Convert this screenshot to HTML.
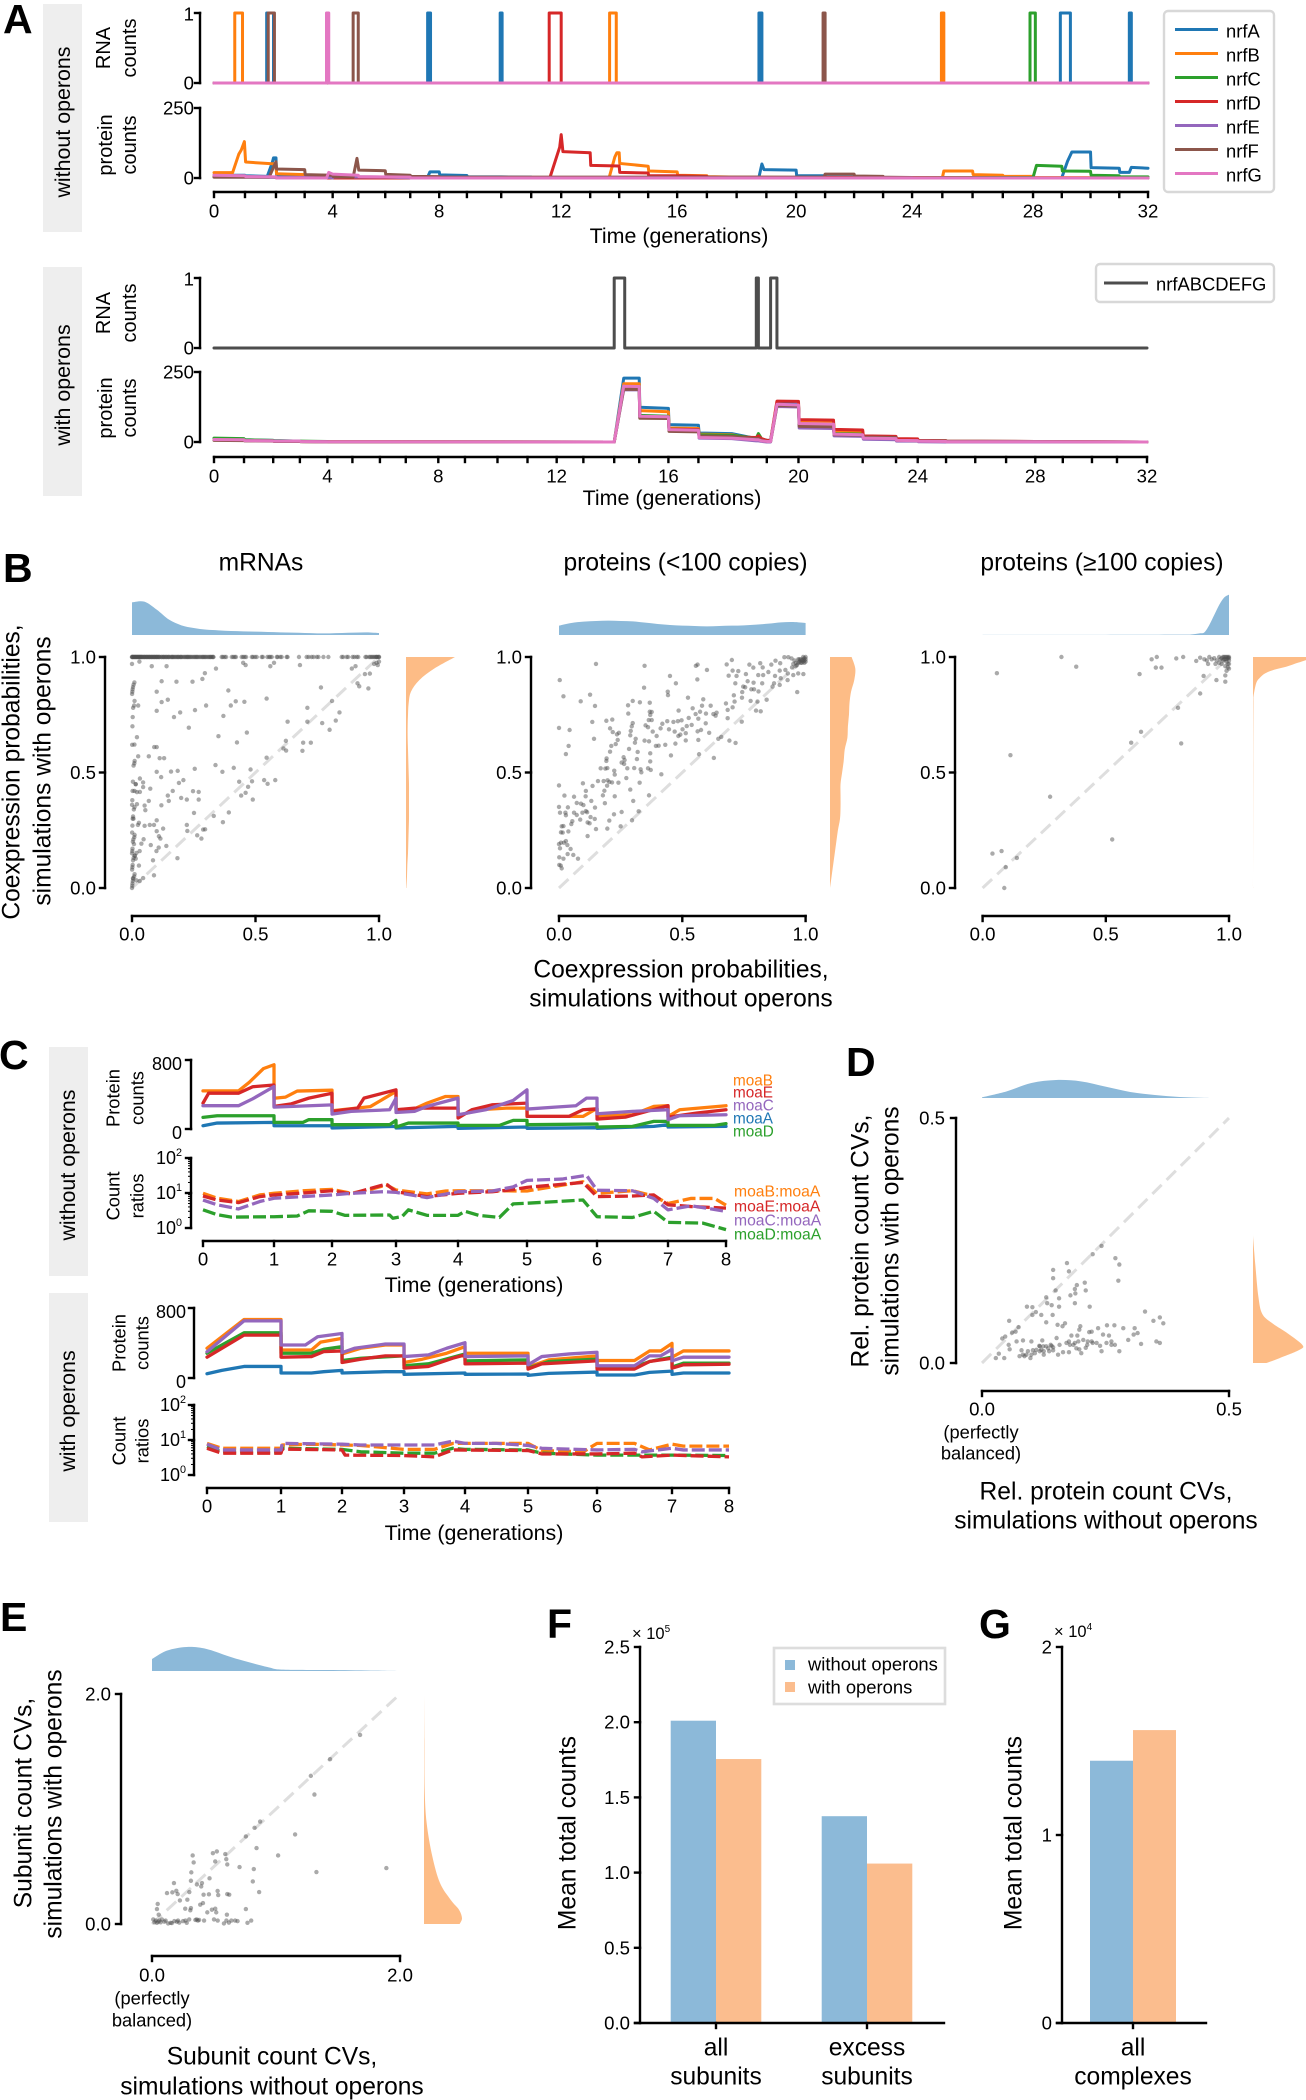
<!DOCTYPE html>
<html lang="en">
<head>
<meta charset="utf-8">
<title>Operon simulation figure</title>
<style>
html,body{margin:0;padding:0;background:#fff}
svg{display:block}
text{font-family:"Liberation Sans",Arial,sans-serif;fill:#000}
.c{dominant-baseline:central;text-anchor:middle}
.l{dominant-baseline:central;text-anchor:start}
.letter{font-weight:bold;font-size:41px}
.ax{font-size:24.6px}
.tm{font-size:21.4px}
.sm{font-size:20px}
.cs{font-size:18.3px}
.leg{font-size:18.4px}
.moa{font-size:15.3px}
.moar{font-size:15.7px}
</style>
</head>
<body>
<svg id="fig" width="1306" height="2100" viewBox="0 0 1306 2100" xmlns="http://www.w3.org/2000/svg">
<rect x="43" y="4" width="39" height="228" fill="#eeeeee"/>
<rect x="43" y="267" width="39" height="229" fill="#eeeeee"/>
<rect x="49" y="1047" width="39" height="229" fill="#eeeeee"/>
<rect x="49" y="1293" width="39" height="229" fill="#eeeeee"/>

<text class="letter" x="3" y="33">A</text>
<text class="letter" x="3" y="582">B</text>
<text class="letter" x="-1" y="1069">C</text>
<text class="letter" x="846" y="1076">D</text>
<text class="letter" x="0" y="1631">E</text>
<text class="letter" x="547" y="1638">F</text>
<text class="letter" x="979" y="1638">G</text>

<text class="c tm" transform="translate(63 122) rotate(-90)">without operons</text>
<text class="c tm" transform="translate(63 385) rotate(-90)">with operons</text>
<text class="c sm" transform="translate(104 48) rotate(-90)">RNA</text>
<text class="c sm" transform="translate(130 48) rotate(-90)">counts</text>
<text class="c sm" transform="translate(106 145) rotate(-90)">protein</text>
<text class="c sm" transform="translate(130 145) rotate(-90)">counts</text>
<text class="c sm" transform="translate(104 313) rotate(-90)">RNA</text>
<text class="c sm" transform="translate(130 313) rotate(-90)">counts</text>
<text class="c sm" transform="translate(106 408) rotate(-90)">protein</text>
<text class="c sm" transform="translate(130 408) rotate(-90)">counts</text>
<text class="c tm" x="679" y="236">Time (generations)</text>
<text class="c tm" x="672" y="498">Time (generations)</text>

<g>
<rect x="1164" y="11" width="110" height="181" rx="4" fill="#fff" stroke="#d8d8d8" stroke-width="2.4"/>
<g><line x1="1175" x2="1218" y1="29.5" y2="29.5" stroke="#1f77b4" stroke-width="3"/><text class="l leg" x="1226" y="31">nrfA</text></g>
<g><line x1="1175" x2="1218" y1="53.5" y2="53.5" stroke="#ff7f0e" stroke-width="3"/><text class="l leg" x="1226" y="55">nrfB</text></g>
<g><line x1="1175" x2="1218" y1="77.5" y2="77.5" stroke="#2ca02c" stroke-width="3"/><text class="l leg" x="1226" y="79">nrfC</text></g>
<g><line x1="1175" x2="1218" y1="101.5" y2="101.5" stroke="#d62728" stroke-width="3"/><text class="l leg" x="1226" y="103">nrfD</text></g>
<g><line x1="1175" x2="1218" y1="125.5" y2="125.5" stroke="#9467bd" stroke-width="3"/><text class="l leg" x="1226" y="127">nrfE</text></g>
<g><line x1="1175" x2="1218" y1="149.5" y2="149.5" stroke="#8c564b" stroke-width="3"/><text class="l leg" x="1226" y="151">nrfF</text></g>
<g><line x1="1175" x2="1218" y1="173.5" y2="173.5" stroke="#e377c2" stroke-width="3"/><text class="l leg" x="1226" y="175">nrfG</text></g>
</g>
<g>
<rect x="1096" y="264" width="178" height="38" rx="4" fill="#fff" stroke="#d8d8d8" stroke-width="2.4"/>
<line x1="1104" x2="1148" y1="283" y2="283" stroke="#4d4d4d" stroke-width="3"/>
<text class="l leg" x="1156" y="284">nrfABCDEFG</text>
</g>

<text class="c ax" x="261" y="563">mRNAs</text>
<text class="c ax" x="685.5" y="563">proteins (&lt;100 copies)</text>
<text class="c ax" x="1102" y="563">proteins (≥100 copies)</text>
<text class="c ax" transform="translate(12 772) rotate(-90)">Coexpression probabilities,</text>
<text class="c ax" transform="translate(43 771) rotate(-90)">simulations with operons</text>
<text class="c ax" x="681" y="970">Coexpression probabilities,</text>
<text class="c ax" x="681" y="999">simulations without operons</text>

<text class="c tm" transform="translate(68 1165) rotate(-90)">without operons</text>
<text class="c tm" transform="translate(68 1411) rotate(-90)">with operons</text>
<text class="c cs" transform="translate(113 1098) rotate(-90)">Protein</text>
<text class="c cs" transform="translate(137 1098) rotate(-90)">counts</text>
<text class="c cs" transform="translate(113 1196) rotate(-90)">Count</text>
<text class="c cs" transform="translate(137 1196) rotate(-90)">ratios</text>
<text class="c cs" transform="translate(119 1343) rotate(-90)">Protein</text>
<text class="c cs" transform="translate(142 1343) rotate(-90)">counts</text>
<text class="c cs" transform="translate(119 1441) rotate(-90)">Count</text>
<text class="c cs" transform="translate(142 1441) rotate(-90)">ratios</text>
<text class="c tm" x="474" y="1285">Time (generations)</text>
<text class="c tm" x="474" y="1533">Time (generations)</text>
<text class="l moa" x="733" y="1081" style="fill:#ff7f0e">moaB</text>
<text class="l moa" x="733" y="1093" style="fill:#d62728">moaE</text>
<text class="l moa" x="733" y="1106" style="fill:#9467bd">moaC</text>
<text class="l moa" x="733" y="1119" style="fill:#1f77b4">moaA</text>
<text class="l moa" x="733" y="1132" style="fill:#2ca02c">moaD</text>
<text class="l moar" x="734" y="1192" style="fill:#ff7f0e">moaB:moaA</text>
<text class="l moar" x="734" y="1207" style="fill:#d62728">moaE:moaA</text>
<text class="l moar" x="734" y="1221" style="fill:#9467bd">moaC:moaA</text>
<text class="l moar" x="734" y="1235" style="fill:#2ca02c">moaD:moaA</text>

<text class="c ax" transform="translate(861 1241) rotate(-90)">Rel. protein count CVs,</text>
<text class="c ax" transform="translate(891 1241) rotate(-90)">simulations with operons</text>
<text class="c cs" x="981" y="1432">(perfectly</text>
<text class="c cs" x="981" y="1453">balanced)</text>
<text class="c ax" x="1106" y="1492">Rel. protein count CVs,</text>
<text class="c ax" x="1106" y="1521">simulations without operons</text>

<text class="c ax" transform="translate(24 1803) rotate(-90)">Subunit count CVs,</text>
<text class="c ax" transform="translate(54 1804) rotate(-90)">simulations with operons</text>
<text class="c cs" x="152" y="1998">(perfectly</text>
<text class="c cs" x="152" y="2020">balanced)</text>
<text class="c ax" x="272" y="2057">Subunit count CVs,</text>
<text class="c ax" x="272" y="2087">simulations without operons</text>

<text class="c ax" transform="translate(568 1833) rotate(-90)">Mean total counts</text>
<text class="c ax" transform="translate(1014 1833) rotate(-90)">Mean total counts</text>
<text x="632" y="1639" font-size="16.5">× 10<tspan dy="-7" font-size="10">5</tspan></text>
<text x="1054" y="1637" font-size="16.5">× 10<tspan dy="-7" font-size="10">4</tspan></text>

<g id="marks"></g>

<g>
<rect x="774" y="1648" width="171" height="56" fill="#fff" stroke="#dddddd" stroke-width="2.6"/>
<g><rect x="785" y="1660" width="10" height="10" fill="#8cb9d9"/><text class="l leg" x="808" y="1664">without operons</text></g>
<g><rect x="785" y="1682" width="10" height="10" fill="#fbbd8e"/><text class="l leg" x="808" y="1687">with operons</text></g>
</g>
</svg>

<script>
/* ---------- Panel A: data ---------- */
const genLengthsA1 = [31,31,28.7,28,25.6,27,25,29,27.7,34.3,30,30,29,29,29,29,29.75,29.75,29.75,29.75,29,29,29,29,30.25,30.25,30.25,30.25,28.75,28.75,28.75,28.75];
const genLengthsA2 = [36,35,32,33,30,33,31,39,32,39,36,35,32,37,30,35,36,40,42,38,42,35,40,26,34,35,37,35,33,35,30,36];
const timeTickLabelsA = [0,4,8,12,16,20,24,28,32];
const rnaTicks = [0,1];
const proteinTicksA = [0,250];

const rnaSpikesA = [[1.7,1.92],[7.6,7.7],[9.97,10.03],[18.75,18.85],[28.95,29.3],[31.35,31.42]];
const rnaSpikesB = [[0.67,0.92],[13.67,13.9],[24.97,25.05]];
const rnaSpikesC = [[27.9,28.08]];
const rnaSpikesD = [[11.6,12.0]];
const rnaSpikesE = [];
const rnaSpikesF = [[1.75,1.95],[4.8,5.0],[20.93,21.0]];
const rnaSpikesG = [[3.78,3.86]];
const rnaSpikesOperon = [[14,14.42],[18.7,18.76],[19.12,19.32]];

const proteinA1A = [[0,10],[1,10],[1.02,8],[1.72,6],[1.88,55],[1.92,72],[2,72],[2.02,12],[3,8],[3.02,5],[7.6,3],[7.68,22],[8,22],[8.02,11],[9,9],[9.02,4],[10,4],[11,3],[11.02,1],[18.75,3],[18.85,50],[18.92,30],[20,28],[20.02,8],[21,8],[21.02,3],[22,3],[22.02,1],[29,1],[29.2,60],[29.35,93],[30,93],[30.02,37],[31,35],[31.02,20],[31.35,20],[31.42,38],[32,35]];
const proteinA1B = [[0,19],[0.6,19],[0.8,85],[0.88,100],[0.98,130],[1.02,57],[2,50],[2.02,15],[3,12],[3.02,7],[5,3],[5.02,0],[13.65,0],[13.85,75],[13.92,90],[14,90],[14.02,52],[15,42],[15.02,25],[16,22],[16.02,10],[17,8],[17.02,5],[18,3],[20,2],[20.02,0],[25,0],[25.05,25],[26,25],[26.02,12],[27,10],[27.02,6],[28,6],[28.02,2],[32,1]];
const proteinA1C = [[0,5],[2,3],[2.02,0],[28,2],[28.12,45],[29,42],[29.02,25],[30,24],[30.02,10],[31,8],[31.02,4],[32,4]];
const proteinA1D = [[0,5],[2,3],[2.02,0],[11.62,0],[11.95,110],[12,155],[12.06,94],[13,90],[13.02,45],[14,43],[14.02,20],[15,18],[15.02,8],[16,8],[17,6],[17.02,2],[32,0]];
const proteinA1E = [[0,3],[3.9,2],[4,0],[4.02,4],[6,3],[7,1],[7.02,0],[32,0]];
const proteinA1F = [[0,3],[1.78,3],[2,58],[2.02,32],[3,30],[3.02,12],[4,10],[4.02,5],[4.8,3],[4.95,70],[5.02,28],[6,26],[6.02,13],[7,10],[7.02,6],[8,5],[8.02,3],[20.97,3],[21,14],[22,14],[22.02,7],[23,6],[23.02,3],[24,2],[24.02,0],[32,0]];
const proteinA1G = [[0,10],[1,8],[1.02,5],[2,4],[2.02,0],[3.78,0],[3.86,20],[4,14],[5,10],[5.02,5],[6,4],[7,3],[7.02,0],[32,0]];

const proteinTimesA2 = [0,1,1.02,2,2.02,3,3.02,4,4.02,14,14.38,14.42,15,15.02,16,16.02,17,17.02,18,18.7,18.76,18.85,19,19.12,19.32,20,20.02,21,21.02,22,22.02,23,23.02,24,24.02,25,25.02,28,32];
const proteinA2A = [12,10,8,6,5,3,2,1,1,0,228,228,228,124,120,62,60,32,30,12,14,10,6,6,138,135,62,60,30,28,16,15,8,7,4,3,2,1,0];
const proteinA2B = [8,7,6,5,4,3,2,1,1,0,208,208,208,112,108,50,48,28,26,10,10,8,4,4,132,130,70,68,38,36,18,16,8,7,4,3,2,1,0];
const proteinA2C = [14,12,8,6,5,3,3,2,1,0,200,198,196,95,92,46,44,26,24,14,30,12,4,4,132,130,62,58,30,28,16,14,8,7,4,3,2,1,0];
const proteinA2D = [8,7,5,4,3,2,2,1,1,0,195,192,190,90,88,46,44,20,18,16,22,12,6,6,146,145,80,78,45,43,22,20,12,11,6,5,3,2,0];
const proteinA2E = [7,6,5,4,3,3,2,1,0,0,187,186,186,88,86,42,40,14,12,4,4,2,0,0,127,125,50,48,22,20,10,8,3,3,1,0,0,0,0];
const proteinA2F = [6,5,4,3,2,2,1,1,0,0,190,188,188,85,84,38,36,22,20,12,12,6,2,2,130,128,56,54,26,24,18,16,6,5,4,4,3,2,0];
const proteinA2G = [9,8,5,4,3,3,2,1,1,0,200,199,198,92,90,44,42,16,14,8,8,4,2,2,135,132,66,64,28,26,14,12,6,5,3,2,1,1,0];

/* ---------- Panel B: data ---------- */
const kdeGrid = [0,.05,.1,.15,.2,.25,.3,.35,.4,.45,.5,.55,.6,.65,.7,.75,.8,.85,.9,.95,1];
const b1TopDensity = [98,100,76,46,29,21,16,14,12,11,10,9,8,7,6,5,5,6,7,8,6];
const b1RightDensity = [1,3,4,6,7,8,9,9,9,9,8,7,6,5,5,6,8,15,40,85,147];
const b2TopDensity = [28,36,40,42,43,42,41,37,33,30,28,27,26,27,28,29,31,34,38,39,36];
const b2RightDensity = [0,3,6,9,12,15,19,20,20,20,23,26,28,33,34,36,37,40,46,48,41];
const b3TopGrid = [0,.5,.8,.85,.88,.9,.92,.94,.96,.98,1];
const b3TopDensity = [.3,.5,1,2,5,8,30,60,90,112,121];
const b3RightGrid = [0,.5,.8,.83,.886,.91,.929,.945,.958,.975,.987,1];
const b3RightDensity = [.2,.4,.8,1,6,13,23,40,63,85,101,115];
const unitTicks = [0,.5,1];

const b1TopRowX = [0,.004,.008,.012,.016,.02,.024,.028,.032,.036,.04,.045,.05,.055,.06,.065,.07,.075,.08,.085,.09,.095,.1,.105,.11,.118,.125,.13,.138,.145,.15,.16,.165,.172,.18,.187,.195,.2,.21,.218,.225,.232,.24,.25,.258,.265,.275,.285,.292,.3,.31,.318,.325,.33,.363,.381,.404,.421,.444,.462,.485,.505,.525,.548,.566,.586,.606,.626,.676,.707,.727,.748,.775,.795,.849,.869,.893,.916,.95,.97,.99,1,.96,.98,.995];
const b1TopRowExtraX = [0,.002,.006,.01,.014,.018,.022,.026,.03,.034,.038,.042,.048,.052,.058,.062,.068,.072,.078,.082,.088,.092,.098,.102,.108,.112,.12,.127,.134,.14,.148,.155,.162,.168,.176,.184,.19,.198,.205,.214,.222,.228,.236,.245,.254,.262,.27,.28,.288,.296,.305,.314,.32,.328,.368,.375,.41,.416,.45,.456,.49,.498,.53,.555,.56,.59,.6,.63,.715,.735,.755,.855,.875,.9,.91,.945,.975,.985,1,.99,.965];
const b1LeftColumnY = [0,.01,.02,.03,.04,.05,.06,.08,.09,.1,.12,.13,.14,.15,.16,.17,.2,.21,.22,.23,.24,.27,.3,.31,.34,.35,.36,.38,.42,.46,.53,.54,.55,.62,.7,.74,.78,.79,.81,.84,.85,.86,.87,.88,.89];
const b1Points = [[0,.97],[.03,.98],[.08,.96],[.14,.96],[.45,.975],[.46,.965],[.575,.975],[.56,.96],[.68,.965],[.89,.95],[.905,.96],[.34,.95],[.295,.93],[.285,.905],[.245,.893],[.18,.893],[.12,.895],[.1,.85],[.12,.805],[.145,.815],[.1,.767],[.025,.79],[.195,.76],[.17,.74],[.255,.77],[.3,.79],[.39,.855],[.4,.79],[.42,.808],[.455,.806],[.545,.82],[.37,.745],[.23,.694],[.35,.657],[.465,.673],[.425,.63],[.63,.72],[.765,.868],[.81,.81],[.84,.76],[.825,.725],[.71,.78],[.71,.72],[.77,.714],[.8,.685],[.943,.926],[.963,.928],[.913,.886],[.92,.873],[.957,.864],[.02,.653],[.01,.621],[.025,.57],[.068,.57],[.09,.61],[.1,.61],[.112,.562],[.13,.562],[.1,.503],[.158,.504],[.185,.507],[.254,.516],[.338,.532],[.366,.503],[.412,.52],[.48,.513],[.545,.564],[.623,.637],[.613,.604],[.624,.595],[.69,.594],[.693,.629],[.724,.629],[.118,.48],[.208,.467],[.19,.455],[.165,.42],[.145,.4],[.149,.377],[.119,.358],[.199,.39],[.222,.383],[.27,.383],[.247,.419],[.27,.416],[.251,.325],[.331,.312],[.368,.285],[.392,.327],[.434,.46],[.486,.462],[.47,.438],[.46,.412],[.442,.4],[.489,.383],[.535,.467],[.549,.451],[.58,.467],[.032,.474],[.045,.457],[.045,.437],[.032,.416],[.015,.449],[.074,.43],[.068,.377],[.051,.357],[.054,.337],[.02,.363],[.089,.273],[.072,.273],[.051,.269],[.1,.293],[.028,.282],[.024,.273],[.126,.257],[.1,.246],[.109,.224],[.115,.214],[.047,.211],[.038,.192],[.076,.186],[.108,.175],[.099,.16],[.139,.182],[.031,.16],[.018,.152],[.085,.12],[.015,.127],[.028,.097],[.184,.129],[.222,.273],[.224,.247],[.264,.228],[.281,.214],[.288,.253],[.296,.254],[.089,.055],[.045,.043],[.031,.03],[.018,.033],[.004,.043],[.98,.97],[.99,.975],[1,.98],[.995,.965],[.015,.45],[.01,.42],[.02,.415],[.006,.3],[.012,.14],[.008,.19]];
const b2Points = [[.15,.97],[.347,.962],[.555,.962],[.562,.967],[.6,.944],[.68,.968],[.701,.987],[.704,.941],[.727,.939],[.772,.967],[.788,.954],[.816,.973],[.826,.955],[.861,.967],[.878,.984],[.897,.973],[.914,.999],[.93,.999],[.943,.994],[.003,.9],[.45,.918],[.474,.886],[.561,.903],[.688,.919],[.72,.918],[.758,.926],[.808,.922],[.828,.922],[.849,.935],[.895,.941],[.918,.944],[.928,.929],[.95,.922],[.97,.929],[.991,.926],[.876,.918],[.899,.908],[.927,.9],[.018,.83],[.126,.837],[.088,.808],[.146,.788],[.345,.867],[.441,.85],[.442,.835],[.523,.824],[.715,.886],[.765,.895],[.789,.889],[.824,.886],[.872,.886],[.895,.879],[.866,.872],[.966,.848],[.747,.872],[.755,.869],[.78,.86],[.791,.86],[.809,.851],[.743,.848],[.709,.834],[.742,.824],[.677,.799],[.712,.807],[.777,.81],[.805,.807],[.842,.815],[.299,.81],[.28,.791],[.328,.804],[.368,.802],[.585,.817],[.58,.789],[.615,.789],[.542,.778],[.485,.768],[.572,.763],[.281,.755],[.368,.763],[.376,.762],[.37,.749],[.554,.753],[.596,.755],[.626,.753],[.639,.759],[.635,.746],[.684,.771],[.704,.782],[.799,.768],[.818,.765],[.364,.727],[.376,.727],[.192,.724],[.216,.729],[.135,.719],[.299,.714],[.439,.722],[.464,.719],[.482,.722],[.497,.726],[.526,.736],[.565,.733],[.684,.735],[.741,.72],[.295,.7],[.419,.711],[.351,.704],[.361,.696],[.538,.706],[.595,.713],[.207,.691],[.218,.675],[.243,.672],[.235,.665],[.291,.68],[.289,.661],[.38,.677],[.396,.658],[.412,.691],[.446,.687],[.469,.677],[.501,.687],[.518,.701],[.562,.678],[.576,.684],[.609,.672],[0,.693],[.043,.684],[.142,.646],[.238,.641],[.23,.623],[.311,.646],[.308,.629],[.347,.638],[.365,.635],[.393,.615],[.404,.616],[.431,.62],[.472,.625],[.484,.658],[.492,.664],[.514,.67],[.514,.639],[.565,.641],[.646,.646],[.658,.654],[.691,.638],[.716,.628],[.039,.615],[.212,.615],[.284,.602],[.207,.59],[.319,.589],[.37,.583],[.028,.58],[.454,.574],[.568,.579],[.628,.563],[.193,.561],[.192,.55],[.262,.566],[.266,.554],[.254,.543],[.264,.537],[.316,.558],[.37,.548],[.169,.518],[.188,.517],[.196,.519],[.224,.508],[.226,.491],[.277,.518],[.305,.519],[.331,.514],[.361,.518],[.372,.511],[.334,.501],[.415,.492],[.273,.476],[.158,.463],[.181,.463],[.197,.466],[.204,.459],[.215,.457],[.241,.456],[.327,.456],[.097,.453],[0,.444],[.136,.442],[.195,.443],[.184,.421],[.109,.42],[.289,.426],[.022,.4],[.061,.395],[.108,.397],[.178,.401],[.226,.397],[.365,.401],[.131,.377],[.301,.377],[.072,.368],[.089,.365],[.099,.359],[.186,.367],[0,.351],[.036,.349],[.146,.348],[.004,.326],[.026,.326],[.028,.315],[.061,.326],[.072,.316],[.095,.326],[.109,.333],[.114,.328],[.223,.319],[.254,.329],[.323,.332],[.128,.307],[.145,.299],[.086,.296],[.054,.289],[.204,.292],[.296,.293],[.018,.268],[.011,.267],[.05,.277],[.116,.284],[.124,.28],[.15,.255],[.196,.257],[.25,.267],[.008,.241],[.015,.24],[.038,.245],[.116,.225],[.028,.203],[.02,.196],[.008,.196],[0,.19],[.034,.186],[.004,.172],[.047,.169],[.035,.147],[.058,.143],[.001,.133],[.018,.127],[.077,.127],[.001,.1],[.007,.097],[.011,.085],[1,1],[.995,.995],[.99,.99],[.985,.985],[.98,.99],[.975,.98],[.97,.975],[.965,.965],[.96,.96],[.99,1],[.995,.985],[1,.99],[.985,.975],[.98,.975],[.99,.98],[.975,.99],[.96,.975],[.95,.97],[.97,.99],[1,.98],[.995,.975],[.945,.955],[.955,.985]];
const b3Points = [[.32,1],[.38,.958],[.058,.93],[.113,.575],[.274,.395],[.526,.21],[.077,.16],[.04,.149],[.139,.13],[.094,.09],[.088,0],[.603,.629],[.643,.676],[.806,.626],[.793,.78],[.883,.842],[.637,.926],[.686,.99],[.707,1],[.703,.954],[.726,.954],[.786,.994],[.814,1],[.867,.983],[.883,.997],[.897,.918],[.949,.9],[.985,.893],[.985,.92],[.99,.94],[.9,.99],[.91,.985],[.92,1],[.93,.99],[.94,.995],[.95,.985],[.96,1],[.965,.99],[.97,.995],[.975,.985],[.98,1],[.985,.99],[.99,1],[.995,.995],[1,1],[.99,.98],[.995,.97],[1,.985],[1,.97],[.985,.96],[.995,.955],[1,.95],[.97,.97],[.96,.975],[.945,.97],[.915,.97],[1,.995],[.995,1],[.99,.99],[.985,1],[.98,.99],[.975,1]];

/* ---------- Panel C: data ---------- */
const genLengthsC1 = [71,58,64,62,69,70,71,58];
const genLengthsC2 = [74,61,62,61,63,69,75,57];
const timeTickLabelsC = [0,1,2,3,4,5,6,7,8];
const proteinTicksC = [0,800];
const ratioTicksC = [1,10,100];
const ratioMinorTicks = [2,3,4,5,6,7,8,9,20,30,40,50,60,70,80,90];

const c1MoaA = [[0,38],[.2,69],[1,77],[1.001,38],[2,38],[2.001,12],[3,30],[3.001,12],[4,30],[4.001,8],[5,23],[5.001,8],[6,15],[6.001,8],[6.8,30],[7,50],[7.001,23],[8,30]];
const c1MoaB = [[0,442],[.5,442],[.65,540],[.85,700],[1,745],[1.001,357],[1.2,370],[1.4,440],[2,450],[2.001,212],[2.6,260],[3,435],[3.001,223],[3.3,235],[3.5,300],[3.8,377],[4,377],[4.001,154],[4.3,223],[4.7,242],[5,242],[5.001,146],[5.8,146],[6,240],[6.001,146],[6.5,165],[6.8,262],[7,270],[7.001,146],[7.2,223],[8,270]];
const c1MoaD = [[0,135],[.2,154],[1,154],[1.001,77],[1.5,77],[1.6,108],[2,108],[2.001,50],[2.9,50],[3,100],[3.001,23],[3.2,69],[4,69],[4.001,42],[4.6,42],[4.8,100],[5,100],[5.001,50],[6,58],[6.001,23],[6.5,30],[6.8,88],[7,88],[7.001,42],[7.8,42],[8,62]];
const c1MoaE = [[0,300],[.08,415],[.5,415],[.7,490],[1,510],[1.001,262],[1.3,292],[1.6,358],[2,415],[2.001,204],[2.4,242],[2.5,358],[3,454],[3.001,223],[3.3,242],[4,242],[4.001,127],[4.2,223],[4.5,281],[5,300],[5.001,146],[5.6,146],[5.8,223],[6,235],[6.001,115],[6.4,138],[7,270],[7.001,138],[7.5,185],[8,223]];
const c1MoaC = [[0,270],[.5,270],[.7,350],[1,492],[1.001,254],[2,280],[2.001,173],[2.3,204],[2.9,223],[3,358],[3.001,192],[3.3,204],[3.5,262],[4,358],[4.001,165],[4.4,223],[4.8,331],[5,454],[5.001,231],[5.4,254],[5.7,270],[5.85,358],[6,358],[6.001,177],[6.5,204],[7,223],[7.001,108],[7.2,154],[8,165]];

const c1RatioB = [[0,9.8],[.2,7.1],[.5,5.7],[.8,8.8],[1,9.8],[1.5,11.6],[2,12.7],[2.3,9.8],[2.6,12.7],[2.85,16.9],[3,12.2],[3.5,9.4],[3.8,11.4],[4,11.6],[4.5,11.6],[5,11.4],[5.8,21],[6,9.8],[6.5,11.6],[6.8,8.2],[7,5],[7.4,7],[7.8,7],[8,4.5]];
const c1RatioE = [[0,8.2],[.2,6.3],[.5,5.3],[.8,7.9],[1,8.8],[1.5,10],[2,11.6],[2.3,9.4],[2.6,13.5],[2.85,18],[3,10.9],[3.5,7.9],[4,9.8],[4.5,10.9],[4.8,12.5],[5,14.5],[5.8,20],[6,7.9],[6.5,8.2],[6.8,8.8],[7,4.6],[7.4,4.1],[8,3.7]];
const c1RatioC = [[0,6.3],[.2,4.6],[.5,3.5],[.8,5.7],[1,7.1],[1.5,7.9],[2,8.8],[2.3,9.8],[2.8,10.9],[3,10.4],[3.5,7.4],[4,10.9],[4.5,11.4],[4.8,15],[5,23],[5.5,25],[5.85,32],[6,12],[6.5,11.6],[6.8,7],[7,3.3],[7.4,4.3],[8,3]];
const c1RatioD = [[0,3.3],[.2,2.4],[.4,2.05],[1,2.1],[1.4,2.2],[1.6,3.1],[2,3],[2.2,2.3],[2.9,2.35],[2.95,1.9],[3.1,2.14],[3.2,3.3],[3.5,2.3],[4,2.3],[4.1,3],[4.3,2.3],[4.6,2],[4.8,4.9],[5,5.1],[5.8,6.3],[6,2.1],[6.5,2],[6.8,3],[7,1.45],[7.6,1.38],[8,.9]];

const c2MoaA = [[0,49],[.2,87],[.5,132],[1,132],[1.001,57],[1.5,57],[1.7,72],[2,87],[2.001,57],[2.7,72],[3,72],[3.001,42],[4,57],[4.001,42],[5,45],[5.001,30],[5.3,53],[6,68],[6.001,34],[6.5,34],[6.7,64],[7,79],[7.001,42],[7.2,57],[8,57]];
const c2MoaB = [[0,340],[.5,668],[1,668],[1.001,320],[1.5,320],[1.65,410],[2,453],[2.001,275],[2.3,340],[2.7,377],[3,377],[3.001,177],[3.3,215],[3.7,283],[4,358],[4.001,283],[5,283],[5.001,125],[5.3,207],[6,253],[6.001,200],[6.5,200],[6.7,309],[6.85,309],[7,396],[7.001,238],[7.2,309],[8,309]];
const c2MoaD = [[0,283],[.5,517],[1,517],[1.001,283],[1.5,283],[1.7,328],[2,358],[2.001,200],[2.3,226],[3,253],[3.001,140],[3.4,162],[4,275],[4.001,196],[5,207],[5.001,113],[5.3,188],[6,215],[6.001,113],[6.5,125],[6.7,188],[7,238],[7.001,125],[7.2,170],[8,170]];
const c2MoaE = [[0,238],[.5,490],[1,490],[1.001,238],[1.5,245],[1.7,302],[2,309],[2.001,177],[2.3,215],[2.7,253],[3,253],[3.001,113],[3.4,132],[3.8,226],[4,264],[4.001,162],[5,170],[5.001,102],[5.2,162],[6,196],[6.001,102],[6.5,102],[6.7,188],[7,226],[7.001,113],[7.2,151],[8,158]];
const c2MoaC = [[0,300],[.5,653],[1,653],[1.001,377],[1.4,377],[1.6,472],[2,509],[2.001,290],[2.2,340],[2.7,388],[3,388],[3.001,245],[3.4,264],[3.7,340],[4,403],[4.001,245],[5,253],[5.001,151],[5.2,245],[5.6,275],[6,294],[6.001,140],[6.5,140],[6.7,253],[6.85,253],[7,328],[7.001,196],[7.2,238],[8,238]];

const c2RatioB = [[0,8],[.2,5.8],[1,5.8],[1.02,7.2],[1.5,7.6],[2,7.2],[2.3,7],[3,5.4],[3.5,5.4],[3.8,8],[4,8],[5,8],[5.2,5],[5.8,4.6],[6,8],[6.5,8],[6.7,5.2],[7,7.6],[7.2,6.7],[8,6.7]];
const c2RatioC = [[0,7.6],[.2,5.2],[1,5.2],[1.02,8],[2,7.6],[2.3,7.2],[3,7.2],[3.5,7.2],[3.8,9.3],[4,8],[4.5,8],[5,7],[5.2,5.8],[6,5.2],[6.5,5.4],[6.6,4.6],[7,5.8],[7.2,5.2],[8,5.2]];
const c2RatioD = [[0,6.5],[.2,4.6],[1,4.6],[1.02,5.8],[2,5.4],[2.3,4.6],[3,4.2],[3.5,4.2],[3.8,5.8],[4,5.4],[5,5.2],[5.2,4.2],[6,3.7],[7,3.7],[8,3.6]];
const c2RatioE = [[0,5.8],[.2,4.2],[1,4.2],[1.02,5.5],[2,5.2],[2.05,3.7],[3,3.6],[3.5,3.3],[3.8,5.2],[5,5],[5.2,4],[6,4],[6.5,4.2],[6.6,3.3],[7,3.7],[8,3.3]];

/* ---------- Panel D: data ---------- */
const dTicks = [0,.5];
const dTopGrid = [0,.05,.1,.15,.2,.25,.3,.35,.4,.45,.5];
const dTopDensity = [2,20,45,54,50,34,18,9,3,.5,0];
const dRightGrid = [0,.01,.027,.037,.06,.08,.1,.136,.2,.25,.265];
const dRightDensity = [40,80,140,148,105,60,28,16,7,1,0];
const dPoints = [[.242,.239],[.224,.222],[.172,.204],[.144,.19],[.176,.187],[.144,.173],[.27,.214],[.278,.201],[.276,.168],[.208,.164],[.192,.159],[.188,.151],[.149,.148],[.21,.148],[.189,.142],[.179,.138],[.156,.132],[.13,.134],[.132,.122],[.141,.118],[.156,.115],[.188,.122],[.218,.115],[.091,.115],[.102,.114],[.109,.104],[.102,.098],[.12,.098],[.143,.098],[.13,.083],[.055,.086],[.153,.078],[.168,.081],[.163,.075],[.074,.073],[.061,.062],[.068,.064],[.041,.05],[.047,.054],[.028,.01],[.034,.019],[.045,.01],[.056,.028],[.054,.037],[.07,.044],[.083,.046],[.08,.026],[.076,.014],[.086,.014],[.093,.024],[.1,.044],[.098,.01],[.103,.026],[.11,.027],[.116,.035],[.122,.046],[.12,.027],[.125,.017],[.13,.034],[.136,.024],[.141,.035],[.151,.051],[.144,.026],[.157,.037],[.164,.022],[.154,.017],[.176,.022],[.176,.044],[.181,.056],[.193,.056],[.188,.041],[.197,.028],[.201,.02],[.205,.047],[.21,.031],[.222,.044],[.232,.041],[.239,.035],[.242,.024],[.235,.071],[.257,.056],[.262,.044],[.269,.037],[.278,.024],[.286,.071],[.296,.047],[.309,.071],[.315,.061],[.307,.058],[.322,.039],[.353,.044],[.36,.041],[.33,.105],[.347,.086],[.36,.093],[.367,.081],[.199,.075],[.197,.068],[.222,.064],[.217,.063],[.253,.077],[.268,.077],[.245,.058],[.144,.032],[.124,.034],[.117,.024],[.107,.02],[.213,.037],[.185,.037],[.195,.044],[.224,.041],[.191,.03],[.178,.037],[.214,.044],[.262,.037],[.252,.041],[.134,.03],[.117,.034],[.1,.017],[.09,.017],[.083,.017],[.125,.024],[.139,.037],[.171,.041]];

/* ---------- Panel E: data ---------- */
const eTicks = [0,2];
const eTopGrid = [0,.12,.28,.44,.66,.93,1.06,1.46,1.8,2];
const eTopDensity = [36,61,72,66,39,12,4,3,1,0];
const eRightGrid = [0,.05,.124,.21,.356,.588,.877,1.17,1.6,2];
const eRightDensity = [107,114,105,80,48,25,8,2,1,0];
const ePoints = [[1.678,1.644],[1.436,1.433],[1.281,1.288],[1.31,1.126],[.872,.891],[.827,.836],[.757,.761],[1.154,.779],[.843,.66],[1.017,.596],[1.89,.486],[1.326,.452],[.821,.478],[.706,.495],[.591,.608],[.491,.616],[.523,.631],[.51,.544],[.328,.596],[.336,.535],[.599,.564],[.607,.518],[.317,.449],[.464,.397],[.314,.376],[.177,.356],[.362,.344],[.403,.356],[.397,.327],[.813,.37],[.864,.278],[.121,.269],[.164,.275],[.196,.289],[.207,.26],[.301,.278],[.416,.255],[.459,.258],[.529,.287],[.534,.252],[.607,.26],[.623,.255],[.225,.205],[.285,.211],[.046,.174],[.04,.13],[.054,.081],[.268,.133],[.314,.139],[.309,.119],[.389,.168],[.411,.182],[.446,.101],[.483,.124],[.51,.133],[.518,.101],[.604,.081],[.757,.13],[.01,.04],[.02,.015],[.03,.03],[.04,.01],[.05,.02],[.06,.03],[.07,.015],[.08,.04],[.1,.02],[.11,.03],[.13,.005],[.15,.01],[.16,.008],[.18,.025],[.2,.02],[.21,.03],[.22,.012],[.25,.025],[.27,.03],[.28,.01],[.3,.04],[.35,.035],[.36,.04],[.37,.03],[.38,.035],[.42,.03],[.5,.04],[.53,.03],[.58,.005],[.6,.03],[.62,.012],[.64,.03],[.67,.03],[.69,.025],[.77,.01],[.8,.03]];

/* ---------- Panels F and G: data ---------- */
const fCategoriesTop = ['all','excess'];
const fCategoriesBottom = ['subunits','subunits'];
const fWithoutOperons = [201000,137500];
const fWithOperons = [175500,106000];
const fTicks = [0,50000,100000,150000,200000,250000];
const fTickLabels = ['0.0','0.5','1.0','1.5','2.0','2.5'];
const gCategoriesTop = ['all'];
const gCategoriesBottom = ['complexes'];
const gWithoutOperons = [13950];
const gWithOperons = [15580];
const gTicks = [0,10000,20000];
const gTickLabels = ['0','1','2'];

/* ---------- Colours ---------- */
const BLUE='#1f77b4',ORANGE='#ff7f0e',GREEN='#2ca02c',RED='#d62728',PURPLE='#9467bd',BROWN='#8c564b',PINK='#e377c2';
const KDE_BLUE='#8cb9d9',KDE_ORANGE='#fdbc86';
const TICK_SIZE=18.6;
const SPINE=2.4;

/* ---------- Helpers ---------- */
const NS='http://www.w3.org/2000/svg';
const root=document.getElementById('marks');
function svgEl(tag,attrs,parent,label){
  const node=document.createElementNS(NS,tag);
  for(const k in attrs){node.setAttribute(k,attrs[k]);}
  
  
  parent.appendChild(node);
  return node;
}
function group(label){return svgEl('g',{},root,label);}
function linear(d0,d1,r0,r1){return v=>r0+(v-d0)/(d1-d0)*(r1-r0);}
function logScale(d0,d1,r0,r1){return v=>r0+(Math.log10(v)-Math.log10(d0))/(Math.log10(d1)-Math.log10(d0))*(r1-r0);}
function genScale(lengths,x0,x1){
  const cum=[0];
  lengths.forEach((l,i)=>cum.push(cum[i]+l));
  const k=(x1-x0)/cum[cum.length-1];
  return t=>{
    const i=Math.min(Math.floor(t),lengths.length-1);
    return x0+(cum[i]+(t-i)*lengths[i])*k;
  };
}
function seg(g,x1,y1,x2,y2,w,label){
  return svgEl('line',{x1:x1,y1:y1,x2:x2,y2:y2,stroke:'#000','stroke-width':w,'stroke-linecap':'square'},g,label);
}
function tickText(g,x,y,str,size,anchor,label){
  const t=svgEl('text',{x:x,y:y,'font-size':size,'text-anchor':anchor,'dominant-baseline':'central'},g,label);
  t.textContent=str;
  return t;
}
function powerText(g,x,y,exp,size,label){
  const t=svgEl('text',{x:x,y:y+6,'font-size':size,'text-anchor':'end'},g,label);
  t.appendChild(document.createTextNode('10'));
  const s=document.createElementNS(NS,'tspan');
  s.setAttribute('dy','-8');
  s.setAttribute('font-size',size*0.6);
  s.textContent=exp;
  t.appendChild(s);
  return t;
}
function leftAxis(g,x,yS,ticks,labels,size,gap,lift,prefix){
  const ys=ticks.map(yS);
  seg(g,x,Math.min(...ys),x,Math.max(...ys),SPINE,prefix+'-y-spine');
  ticks.forEach((v,i)=>{
    seg(g,x-5,ys[i],x,ys[i],SPINE,prefix+'-y-tick');
    tickText(g,x-gap,ys[i]+(lift?lift[i]:0),labels[i],size,'end',prefix+'-y-tick-label');
  });
}
function bottomAxis(g,y,xS,ticks,labelTicks,labels,size,labelDy,prefix){
  const xs=ticks.map(xS);
  seg(g,Math.min(...xs),y,Math.max(...xs),y,SPINE,prefix+'-x-spine');
  xs.forEach(px=>{seg(g,px,y,px,y+5,SPINE,prefix+'-x-tick');});
  labelTicks.forEach((v,i)=>{
    tickText(g,xS(v),y+labelDy,labels[i],size,'middle',prefix+'-x-tick-label');
  });
}
function seriesLine(g,pts,xS,yS,color,w,dash,label){
  const p=pts.map(d=>xS(d[0]).toFixed(2)+','+yS(d[1]).toFixed(2)).join(' ');
  const attrs={points:p,fill:'none',stroke:color,'stroke-width':w,'stroke-linejoin':'round','stroke-linecap':dash?'butt':'round'};
  if(dash){attrs['stroke-dasharray']=dash;}
  return svgEl('polyline',attrs,g,label);
}
function spikesToSeries(spikes){
  const out=[[0,0]];
  spikes.forEach(s=>{out.push([s[0],0],[s[0],1],[s[1],1],[s[1],0]);});
  out.push([32,0]);
  return out;
}
function zipSeries(times,vals){return times.map((t,i)=>[t,vals[i]]);}
function smooth(pts){
  let d='M'+pts[0][0].toFixed(2)+' '+pts[0][1].toFixed(2);
  for(let i=0;i<pts.length-1;i++){
    const a=pts[Math.max(i-1,0)],b=pts[i],c=pts[i+1],e=pts[Math.min(i+2,pts.length-1)];
    d+=' C'+(b[0]+(c[0]-a[0])/6).toFixed(2)+' '+(b[1]+(c[1]-a[1])/6).toFixed(2)+' '+(c[0]-(e[0]-b[0])/6).toFixed(2)+' '+(c[1]-(e[1]-b[1])/6).toFixed(2)+' '+c[0].toFixed(2)+' '+c[1].toFixed(2);
  }
  return d;
}
function topKde(g,grid,dens,xS,base,k,label){
  const pts=grid.map((v,i)=>[xS(v),base-dens[i]*k]);
  const d=smooth(pts)+' L'+xS(grid[grid.length-1]).toFixed(2)+' '+base+' L'+xS(grid[0]).toFixed(2)+' '+base+' Z';
  return svgEl('path',{d:d,fill:KDE_BLUE},g,label);
}
function rightKde(g,grid,dens,yS,base,k,label){
  const pts=grid.map((v,i)=>[base+dens[i]*k,yS(v)]);
  const d=smooth(pts)+' L'+base+' '+yS(grid[grid.length-1]).toFixed(2)+' L'+base+' '+yS(grid[0]).toFixed(2)+' Z';
  return svgEl('path',{d:d,fill:KDE_ORANGE},g,label);
}
function scatter(g,pts,xS,yS,label){
  pts.forEach(p=>{
    svgEl('circle',{cx:xS(p[0]).toFixed(2),cy:yS(p[1]).toFixed(2),r:2.2,fill:'#4d4d4d','fill-opacity':0.48},g,label);
  });
}
function diagonal(g,lo,hi,xS,yS,label){
  return svgEl('line',{x1:xS(lo),y1:yS(lo),x2:xS(hi),y2:yS(hi),stroke:'#dedede','stroke-width':3,'stroke-dasharray':'13 7'},g,label);
}
const range=n=>Array.from({length:n+1},(_,i)=>i);

/* ---------- Panel A drawing ---------- */
function drawA(prefix,lengths,x0,x1,rnaTop,rnaBot,protTop,protBot,axisY,rnaList,protList){
  const g=group(prefix);
  const xS=genScale(lengths,x0,x1);
  const yR=linear(0,1,rnaBot,rnaTop);
  const yP=linear(0,250,protBot,protTop);
  leftAxis(g,200,yR,rnaTicks,rnaTicks.map(String),TICK_SIZE,6,[0,1],prefix+'-rna');
  leftAxis(g,200,yP,proteinTicksA,proteinTicksA.map(String),TICK_SIZE,6,[0,0],prefix+'-protein');
  bottomAxis(g,axisY,xS,range(32),timeTickLabelsA,timeTickLabelsA.map(String),TICK_SIZE,19,prefix);
  rnaList.forEach(s=>seriesLine(g,spikesToSeries(s.d),xS,yR,s.c,3,null,prefix+'-rna-'+s.n));
  protList.forEach(s=>seriesLine(g,s.d,xS,yP,s.c,3,null,prefix+'-protein-'+s.n));
}
drawA('a1',genLengthsA1,214,1148,13,83,108,178,192,
  [{n:'nrfa',c:BLUE,d:rnaSpikesA},{n:'nrfb',c:ORANGE,d:rnaSpikesB},{n:'nrfc',c:GREEN,d:rnaSpikesC},{n:'nrfd',c:RED,d:rnaSpikesD},{n:'nrfe',c:PURPLE,d:rnaSpikesE},{n:'nrff',c:BROWN,d:rnaSpikesF},{n:'nrfg',c:PINK,d:rnaSpikesG}],
  [{n:'nrfa',c:BLUE,d:proteinA1A},{n:'nrfb',c:ORANGE,d:proteinA1B},{n:'nrfc',c:GREEN,d:proteinA1C},{n:'nrfd',c:RED,d:proteinA1D},{n:'nrfe',c:PURPLE,d:proteinA1E},{n:'nrff',c:BROWN,d:proteinA1F},{n:'nrfg',c:PINK,d:proteinA1G}]);
drawA('a2',genLengthsA2,214,1147,278,348,372,442,457,
  [{n:'nrfabcdefg',c:'#4d4d4d',d:rnaSpikesOperon}],
  [{n:'nrfa',c:BLUE,d:zipSeries(proteinTimesA2,proteinA2A)},{n:'nrfb',c:ORANGE,d:zipSeries(proteinTimesA2,proteinA2B)},{n:'nrfc',c:GREEN,d:zipSeries(proteinTimesA2,proteinA2C)},{n:'nrfd',c:RED,d:zipSeries(proteinTimesA2,proteinA2D)},{n:'nrfe',c:PURPLE,d:zipSeries(proteinTimesA2,proteinA2E)},{n:'nrff',c:BROWN,d:zipSeries(proteinTimesA2,proteinA2F)},{n:'nrfg',c:PINK,d:zipSeries(proteinTimesA2,proteinA2G)}]);

/* ---------- Panel B drawing ---------- */
function drawB(prefix,x0,x1,spineX,pts,topGrid,topDens,topK,rightGrid,rightDens,rightK,rightBase){
  const g=group(prefix);
  const xS=linear(0,1,x0,x1),yS=linear(0,1,888,657);
  topKde(g,topGrid,topDens,xS,635,topK,prefix+'-top-density');
  rightKde(g,rightGrid,rightDens,yS,rightBase,rightK,prefix+'-right-density');
  leftAxis(g,spineX,yS,unitTicks,['0.0','0.5','1.0'],TICK_SIZE,9,null,prefix);
  bottomAxis(g,916,xS,unitTicks,unitTicks,['0.0','0.5','1.0'],TICK_SIZE,18,prefix);
  diagonal(g,0,1,xS,yS,prefix+'-identity-line');
  scatter(g,pts,xS,yS,prefix+'-point');
}
const b1All=b1Points.concat(b1TopRowX.map(x=>[x,1]),b1TopRowExtraX.map(x=>[x,1]),b1LeftColumnY.map((y,i)=>[b1LeftColumnY[(i*7)%b1LeftColumnY.length]*0.012,y]));
drawB('b-mrnas',132,379,105,b1All,kdeGrid,b1TopDensity,1/3,kdeGrid,b1RightDensity,1/3,406);
drawB('b-proteins-low',559,805.6,531,b2Points,kdeGrid,b2TopDensity,1/3,kdeGrid,b2RightDensity,1/1.898,830);
drawB('b-proteins-high',982.6,1229,955,b3Points,b3TopGrid,b3TopDensity,1/3,b3RightGrid,b3RightDensity,1/1.898,1253);

/* ---------- Panel C drawing ---------- */
function drawC(prefix,lengths,spineX,x0,x1,protTop,protBot,rTop,rBot,axisY,gap,prot,ratio){
  const g=group(prefix);
  const xS=genScale(lengths,x0,x1);
  const yP=linear(0,800,protBot,protTop);
  const yR=logScale(1,100,rBot,rTop);
  leftAxis(g,spineX,yP,proteinTicksC,proteinTicksC.map(String),18,gap,[4,4],prefix+'-protein');
  seg(g,spineX,yR(100),spineX,yR(1),SPINE,prefix+'-ratio-y-spine');
  ratioTicksC.forEach((v,i)=>{
    seg(g,spineX-5,yR(v),spineX,yR(v),SPINE,prefix+'-ratio-y-tick');
    powerText(g,spineX-gap,yR(v),i,18,prefix+'-ratio-y-tick-label');
  });
  ratioMinorTicks.forEach(v=>{seg(g,spineX-2.5,yR(v),spineX,yR(v),1,prefix+'-ratio-y-minor-tick');});
  bottomAxis(g,axisY,xS,timeTickLabelsC,timeTickLabelsC,timeTickLabelsC.map(String),TICK_SIZE,18,prefix);
  prot.forEach(s=>seriesLine(g,s.d,xS,yP,s.c,3.3,null,prefix+'-protein-'+s.n));
  ratio.forEach(s=>seriesLine(g,s.d,xS,yR,s.c,3.3,'13 4',prefix+'-ratio-'+s.n));
}
drawC('c1',genLengthsC1,191,203,726,1060,1129,1158,1228,1241,9,
  [{n:'moaa',c:BLUE,d:c1MoaA},{n:'moab',c:ORANGE,d:c1MoaB},{n:'moad',c:GREEN,d:c1MoaD},{n:'moae',c:RED,d:c1MoaE},{n:'moac',c:PURPLE,d:c1MoaC}],
  [{n:'moad',c:GREEN,d:c1RatioD},{n:'moab',c:ORANGE,d:c1RatioB},{n:'moae',c:RED,d:c1RatioE},{n:'moac',c:PURPLE,d:c1RatioC}]);
drawC('c2',genLengthsC2,194,207,729,1308,1378,1405,1475,1488,8,
  [{n:'moaa',c:BLUE,d:c2MoaA},{n:'moab',c:ORANGE,d:c2MoaB},{n:'moad',c:GREEN,d:c2MoaD},{n:'moae',c:RED,d:c2MoaE},{n:'moac',c:PURPLE,d:c2MoaC}],
  [{n:'moab',c:ORANGE,d:c2RatioB},{n:'moad',c:GREEN,d:c2RatioD},{n:'moae',c:RED,d:c2RatioE},{n:'moac',c:PURPLE,d:c2RatioC}]);

/* ---------- Panel D drawing ---------- */
(function(){
  const g=group('d-scatter');
  const xS=linear(0,.5,982,1229),yS=linear(0,.5,1363,1118);
  topKde(g,dTopGrid,dTopDensity,xS,1098,1/3,'d-top-density');
  rightKde(g,dRightGrid,dRightDensity,yS,1253,1/3,'d-right-density');
  leftAxis(g,956,yS,dTicks,['0.0','0.5'],TICK_SIZE,11,null,'d');
  bottomAxis(g,1391,xS,dTicks,dTicks,['0.0','0.5'],TICK_SIZE,18,'d');
  diagonal(g,0,.5,xS,yS,'d-identity-line');
  scatter(g,dPoints,xS,yS,'d-point');
})();

/* ---------- Panel E drawing ---------- */
(function(){
  const g=group('e-scatter');
  const xS=linear(0,2,152,400),yS=linear(0,2,1924,1694);
  topKde(g,eTopGrid,eTopDensity,xS,1671,1/3,'e-top-density');
  rightKde(g,eRightGrid,eRightDensity,yS,424,1/3,'e-right-density');
  leftAxis(g,121,yS,eTicks,['0.0','2.0'],TICK_SIZE,10,null,'e');
  bottomAxis(g,1956,xS,eTicks,eTicks,['0.0','2.0'],TICK_SIZE,19,'e');
  diagonal(g,0,2,xS,yS,'e-identity-line');
  scatter(g,ePoints,xS,yS,'e-point');
})();

/* ---------- Panels F and G drawing ---------- */
function drawBars(prefix,spineX,axisEnd,maxV,ticks,tickLabels,first,step,barW,top,bottom,a,b){
  const g=group(prefix);
  const yS=linear(0,maxV,2023,1647);
  a.forEach((v,i)=>{
    const cx=first+i*step;
    svgEl('rect',{x:cx-barW,y:yS(v),width:barW,height:2023-yS(v),fill:KDE_BLUE},g,prefix+'-bar-without-operons');
    svgEl('rect',{x:cx,y:yS(b[i]),width:barW,height:2023-yS(b[i]),fill:'#fbbd8e'},g,prefix+'-bar-with-operons');
    seg(g,cx,2023,cx,2028,SPINE,prefix+'-x-tick');
    tickText(g,cx,2048,top[i],24.6,'middle',prefix+'-category-label');
    tickText(g,cx,2077,bottom[i],24.6,'middle',prefix+'-category-label');
  });
  leftAxis(g,spineX,yS,ticks,tickLabels,TICK_SIZE,10,null,prefix);
  seg(g,spineX-5,2023,axisEnd,2023,SPINE,prefix+'-x-spine');
}
drawBars('f-bars',640,944,250000,fTicks,fTickLabels,716,151,45.3,fCategoriesTop,fCategoriesBottom,fWithoutOperons,fWithOperons);
drawBars('g-bars',1062,1206,20000,gTicks,gTickLabels,1133,0,43,gCategoriesTop,gCategoriesBottom,gWithoutOperons,gWithOperons);
</script>
</body>
</html>
